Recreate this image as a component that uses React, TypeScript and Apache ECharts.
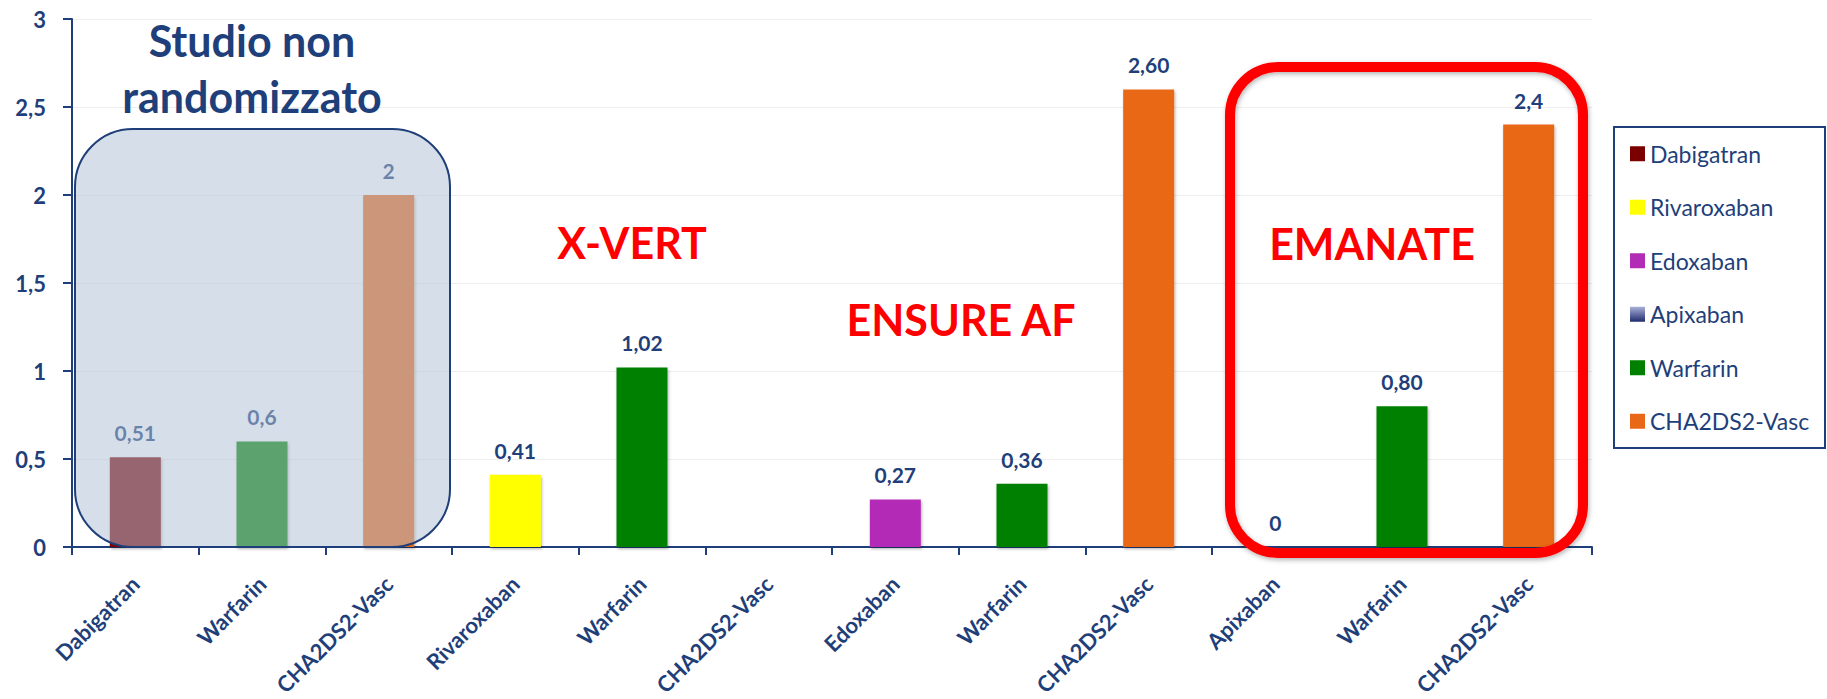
import React, { useEffect, useRef } from "react";
import * as echarts from "echarts";

// Bars, one per category, left to right
const categories = [
  "Dabigatran", "Warfarin", "CHA2DS2-Vasc",
  "Rivaroxaban", "Warfarin", "CHA2DS2-Vasc",
  "Edoxaban", "Warfarin", "CHA2DS2-Vasc",
  "Apixaban", "Warfarin", "CHA2DS2-Vasc",
];
const values: (number | null)[] = [0.51, 0.6, 2, 0.41, 1.02, null, 0.27, 0.36, 2.6, 0, 0.8, 2.4];
// number of decimals shown in each bar label
const decimals = [2, 1, 0, 2, 2, 0, 2, 2, 2, 0, 2, 1];

const seriesNames = ["Dabigatran", "Rivaroxaban", "Edoxaban", "Apixaban", "Warfarin", "CHA2DS2-Vasc"];
const yTicks = [0, 0.5, 1, 1.5, 2, 2.5, 3];

const titleLines = ["Studio non", "randomizzato"];
const trialNames = ["X-VERT", "ENSURE AF", "EMANATE"];

const NAVY = "#1F3F7A";
const RED = "#FF0000";
const FONT = "Lato, 'Open Sans', sans-serif";

const seriesColors: Record<string, any> = {
  Dabigatran: "#7B0000",
  Rivaroxaban: "#FFFF00",
  Edoxaban: "#B22CB5",
  Apixaban: new echarts.graphic.LinearGradient(0, 0, 0, 1, [
    { offset: 0, color: "#A9B0D8" },
    { offset: 1, color: "#1F2C6E" },
  ]),
  Warfarin: "#008000",
  "CHA2DS2-Vasc": "#E96818",
};

const fmt = (v: number, d: number) => v.toFixed(d).replace(".", ",");

export default function App() {
  const ref = useRef<HTMLDivElement>(null);

  useEffect(() => {
    if (!ref.current) return;
    const chart = echarts.init(ref.current, null, { renderer: "svg" });

    const series = seriesNames.map((name) => ({
      name,
      type: "bar",
      barWidth: 51,
      barGap: "-100%",
      data: categories.map((c, i) => (c === name ? values[i] : null)),
      itemStyle: {
        color: seriesColors[name],
        shadowColor: "rgba(0,0,0,0.3)",
        shadowBlur: 3,
        shadowOffsetX: 1,
        shadowOffsetY: 2,
      },
      label: {
        show: true,
        position: "top",
        distance: 14,
        color: NAVY,
        fontFamily: FONT,
        fontWeight: "bold",
        fontSize: 21,
        formatter: (p: any) =>
          p.value == null ? "" : fmt(Number(p.value), decimals[p.dataIndex]),
      },
    }));

    chart.setOption({
      animation: false,
      backgroundColor: "#ffffff",
      grid: { left: 72, right: 235, top: 19, bottom: 152, outerBoundsMode: "none" },
      legend: {
        orient: "vertical",
        left: 1630,
        top: 142,
        padding: 0,
        itemWidth: 15,
        itemHeight: 15,
        itemGap: 30,
        icon: "rect",
        data: seriesNames,
        textStyle: { color: NAVY, fontFamily: FONT, fontSize: 23, lineHeight: 23.5 },
      },
      xAxis: {
        type: "category",
        data: categories,
        axisLine: { lineStyle: { color: NAVY, width: 2 } },
        axisTick: { show: true, length: 8, lineStyle: { color: NAVY, width: 2 } },
        axisLabel: {
          rotate: 45,
          interval: 0,
          margin: 33,
          color: NAVY,
          fontFamily: FONT,
          fontWeight: "bold",
          fontSize: 22,
        },
      },
      yAxis: {
        type: "value",
        min: yTicks[0],
        max: yTicks[yTicks.length - 1],
        interval: yTicks[1] - yTicks[0],
        axisLine: { show: true, lineStyle: { color: NAVY, width: 2 } },
        axisTick: { show: true, length: 9, lineStyle: { color: NAVY, width: 2 } },
        splitLine: { lineStyle: { color: "#EEEEEE", width: 1 } },
        axisLabel: {
          margin: 26,
          color: NAVY,
          fontFamily: FONT,
          fontWeight: "bold",
          fontSize: 22,
          formatter: (v: number) => String(v).replace(".", ","),
        },
      },
      series,
    });

    // Annotation boxes placed from the axis scales
    const px = (i: number, v: number) => chart.convertToPixel({ gridIndex: 0 }, [i, v]) as number[];
    const band = px(1, 0)[0] - px(0, 0)[0];
    const edge = (i: number) => px(0, 0)[0] - band / 2 + band * i;
    const zeroY = px(0, 0)[1];

    const boxL = edge(0) + 3;
    const boxR = edge(3) - 2;
    const boxT = px(0, 2.375)[1];

    const redL = edge(9) + 18;
    const redR = edge(12) - 9;
    const redT = px(0, 2.727)[1];

    const bigText = (text: string, x: number, y: number, fill: string) => ({
      type: "text",
      x,
      y,
      z: 120,
      style: {
        text,
        fill,
        font: `bold 43px ${FONT}`,
        align: "center",
        verticalAlign: "middle",
      },
    });

    chart.setOption({
      graphic: [
        {
          type: "rect",
          z: 100,
          shape: { x: boxL, y: boxT, width: boxR - boxL, height: zeroY - boxT, r: 58 },
          style: {
            fill: "rgba(176,194,212,0.52)",
            stroke: NAVY,
            lineWidth: 2,
          },
        },
        {
          type: "rect",
          z: 100,
          shape: { x: redL, y: redT, width: redR - redL, height: zeroY + 6 - redT, r: 48 },
          style: {
            fill: "none",
            stroke: RED,
            lineWidth: 10,
            shadowColor: "rgba(0,0,0,0.3)",
            shadowBlur: 5,
            shadowOffsetX: 1,
            shadowOffsetY: 2,
          },
        },
        {
          type: "rect",
          z: 100,
          shape: { x: 1614, y: 127, width: 211, height: 321 },
          style: { fill: "none", stroke: NAVY, lineWidth: 2 },
        },
        bigText(titleLines[0], 252, 40, NAVY),
        bigText(titleLines[1], 252, 96, NAVY),
        bigText(trialNames[0], 632, 242, RED),
        bigText(trialNames[1], 961, 319, RED),
        bigText(trialNames[2], 1372, 243, RED),
      ],
    });

    return () => chart.dispose();
  }, []);

  return (
    <div
      ref={ref}
      style={{ position: "fixed", left: 0, top: 0, width: 1827, height: 699, background: "#fff" }}
    />
  );
}
